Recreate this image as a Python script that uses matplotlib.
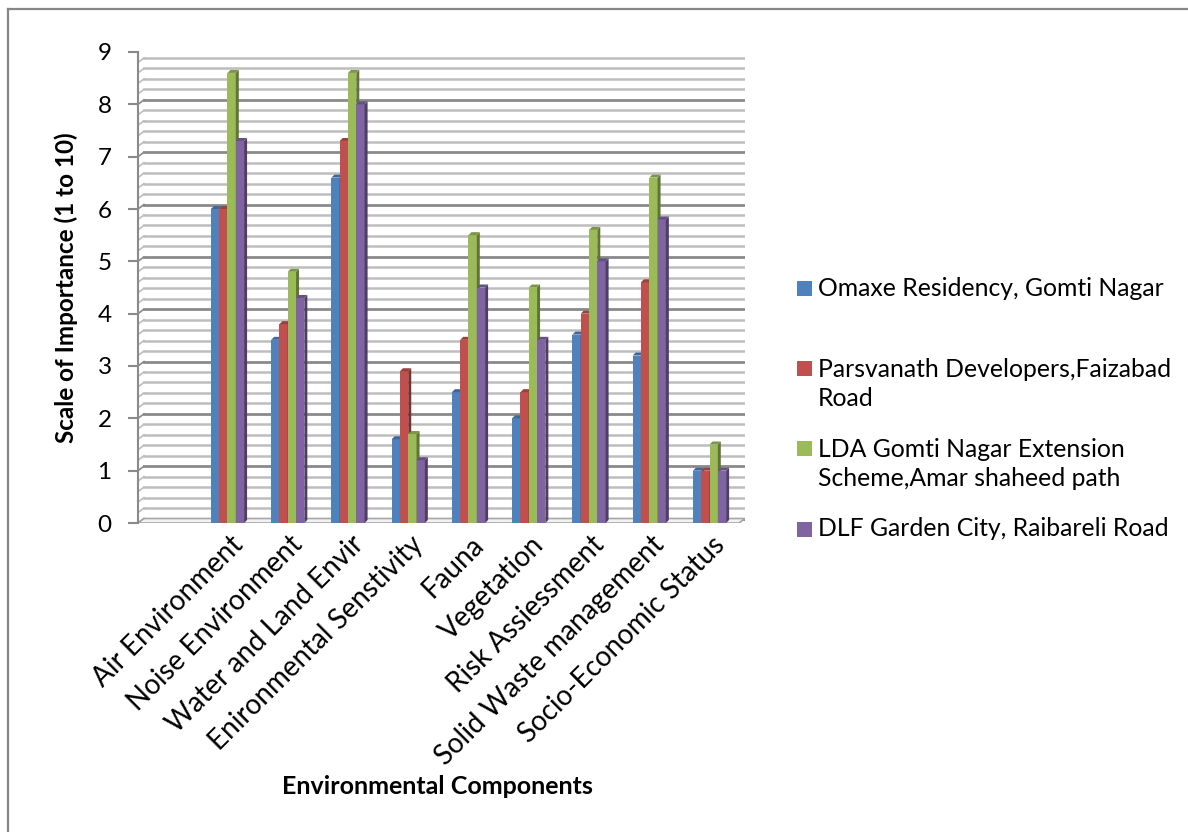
import numpy as np
import matplotlib
matplotlib.use('Agg')
import matplotlib.pyplot as plt
from matplotlib.patches import Polygon, Rectangle
from matplotlib.lines import Line2D
from matplotlib.transforms import ScaledTranslation

plt.rcParams['font.family'] = ['Lato', 'DejaVu Sans']

# data
components = ['Air Environment', 'Noise Environment', 'Water and Land Envir',
              'Enironmental Senstivity', 'Fauna', 'Vegetation', 'Risk Assiessment',
              'Solid Waste management', 'Socio-Economic Status']
series_names = ['Omaxe Residency, Gomti Nagar',
                'Parsvanath Developers,Faizabad\nRoad',
                'LDA Gomti Nagar Extension\nScheme,Amar shaheed path',
                'DLF Garden City, Raibareli Road']
omaxe = [6.0, 3.5, 6.6, 1.6, 2.5, 2.0, 3.6, 3.2, 1.0]
parsvanath = [6.0, 3.8, 7.3, 2.9, 3.5, 2.5, 4.0, 4.6, 1.0]
lda = [8.6, 4.8, 8.6, 1.7, 5.5, 4.5, 5.6, 6.6, 1.5]
dlf = [7.3, 4.3, 8.0, 1.2, 4.5, 3.5, 5.0, 5.8, 1.0]
all_series = [omaxe, parsvanath, lda, dlf]

colors = ['#4F81BD', '#C0504D', '#9BBB59', '#8064A2']

def shade(c, f):
    r, g, b = matplotlib.colors.to_rgb(c)
    return (r * f, g * f, b * f)

W, H = 1188, 832
fig = plt.figure(figsize=(W / 100, H / 100), dpi=100)

# axes box in pixels (front plane)
x_l, x_r, y_b, y_t = 138, 745, 523, 52
ax = fig.add_axes([x_l / W, (H - y_b) / H, (x_r - x_l) / W, (y_b - y_t) / H])
xlo, xhi = -1.485, 8.589
ax.set_xlim(xlo, xhi)
ax.set_ylim(0, 9)

ux = (x_r - x_l) / (xhi - xlo)   # px per x unit
uy = (y_b - y_t) / 9.0           # px per y unit
wall_dx, wall_dy = 6 / ux, 4.5 / uy
bar_dx, bar_dy = 3 / ux, 3 / uy

# back wall gridlines
for k in range(46):
    v = k * 0.2
    major = k % 5 == 0
    col = '#8a8a8a' if major else '#bdbdbd'
    lw = 2.0 if major else 1.8
    ax.plot([xlo + wall_dx, xhi], [v + wall_dy, v + wall_dy], color=col, lw=lw, zorder=1)
    ax.plot([xlo, xlo + wall_dx], [v, v + wall_dy], color=col, lw=1.2, zorder=1)

# floor
floor = Polygon([(xlo, 0), (xhi - wall_dx, 0), (xhi, wall_dy), (xlo + wall_dx, wall_dy)],
                closed=True, facecolor='#f2f2f2', edgecolor='#a6a6a6', lw=1.2, zorder=1.5)
ax.add_patch(floor)

# bars with a simple 3d look
w = 8.3 / ux
x = np.arange(len(components))
for i in range(len(components)):
    for j, vals in enumerate(all_series):
        v = vals[i]
        x0 = x[i] + (j - 1.5) * w - w / 2
        z = 3 + i * 0.1 + j * 0.01
        ax.bar(x0, v, width=w, align='edge', color=colors[j], lw=0, zorder=z)
        side = Polygon([(x0 + w, 0), (x0 + w + bar_dx, bar_dy), (x0 + w + bar_dx, v + bar_dy), (x0 + w, v)],
                       closed=True, facecolor=shade(colors[j], 0.62), lw=0, zorder=z)
        top = Polygon([(x0, v), (x0 + w, v), (x0 + w + bar_dx, v + bar_dy), (x0 + bar_dx, v + bar_dy)],
                      closed=True, facecolor=shade(colors[j], 0.8), lw=0, zorder=z)
        ax.add_patch(side)
        ax.add_patch(top)

for s in ['top', 'right', 'bottom']:
    ax.spines[s].set_visible(False)
ax.spines['left'].set_color('#8a8a8a')
ax.spines['left'].set_linewidth(1.5)
ax.set_yticks(range(10))
ax.tick_params(axis='y', length=7, width=1.5, color='#8a8a8a', pad=12, labelsize=17.5)
ax.set_xticks(x)
ax.set_xticklabels(components, rotation=45, ha='right', va='top', rotation_mode='anchor', fontsize=20)
ax.tick_params(axis='x', length=0, pad=6)
shift = ScaledTranslation(2 / 100, 0, fig.dpi_scale_trans)
for lab in ax.get_xticklabels():
    lab.set_transform(lab.get_transform() + shift)

ax.set_ylabel('Scale of Importance (1 to 10)', fontsize=17.5, fontweight='bold', labelpad=14)
fig.text(437 / W, 1 - 787 / H, 'Environmental Components', fontsize=18, fontweight='bold',
         ha='center', va='center')

# legend drawn by hand
leg_y = [288, 368, 448, 529]
for j, name in enumerate(series_names):
    yc = 1 - leg_y[j] / H
    fig.patches.append(Rectangle((797 / W, yc - 7.5 / H), 15 / W, 15 / H, transform=fig.transFigure,
                                 facecolor=colors[j], edgecolor='none'))
    nlines = name.count('\n') + 1
    fig.text(818 / W, yc - (nlines - 1) * 16 / H, name, fontsize=17.8, ha='left', va='center',
             linespacing=1.3)

# outer border
fig.lines.append(Line2D([8 / W, 1], [1 - 9 / H, 1 - 9 / H], transform=fig.transFigure, color='#878787', lw=1.6))
fig.lines.append(Line2D([8 / W, 8 / W], [0, 1 - 9 / H], transform=fig.transFigure, color='#878787', lw=1.6))

fig.savefig('out.png', dpi=100, facecolor='white')
